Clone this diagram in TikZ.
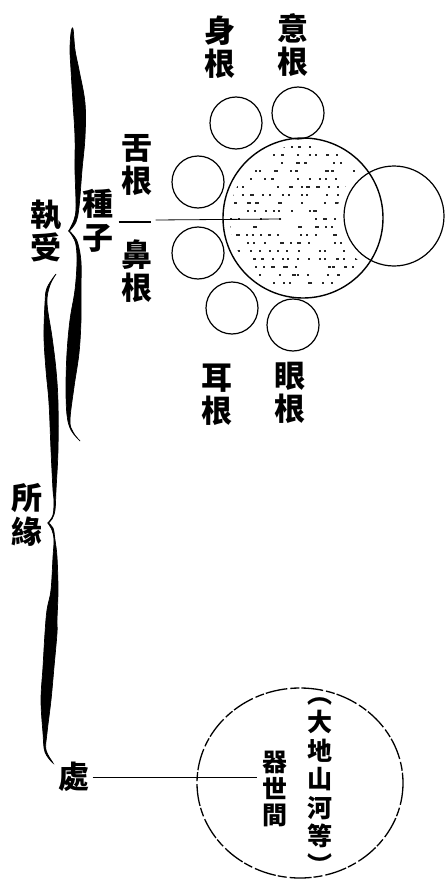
\documentclass[tikz,border=0pt]{standalone}
\usepackage{fontspec}
\newfontfamily\cjk{Noto Sans CJK TC}
\begin{document}
\begin{tikzpicture}[x=1pt,y=-1pt]
\tikzset{
  lbl/.style={font=\cjk\bfseries\fontsize{31}{33.5}\selectfont, align=center, inner sep=0pt},
  lblsm/.style={font=\cjk\bfseries\fontsize{25}{28.5}\selectfont, align=center, inner sep=0pt},
  organ/.style={draw, circle, line width=1.2pt, minimum size=52pt, inner sep=0pt},
  bracefill/.style={fill=black, draw=black, line width=0.7pt},
  leader/.style={line width=0.8pt},
}
\useasboundingbox (0,0) rectangle (444,888);

% stipple in the big circle
\begin{scope}
  \clip (303,218) circle[radius=73];
  \begin{scope}[even odd rule]
  \clip (200,100) rectangle (460,340) (394,216) circle[radius=57];
  \pgfmathsetseed{11}
  \foreach \yy in {146,154,...,294}{
    \foreach \xx in {226,235,...,380}{
      \pgfmathsetmacro{\rr}{rnd}
      \pgfmathsetmacro{\dx}{3.5*rand}
      \pgfmathsetmacro{\ww}{\rr<0.3 ? 0 : (\rr<0.75 ? 2 : 3.6)}
      \ifdim\ww pt>0pt \fill[black!85] (\xx+\dx,\yy) rectangle ++(\ww,2); \fi
    }
  }
  \end{scope}
\end{scope}

% big circle and its companion
\node[draw, circle, line width=1.4pt, minimum size=160pt, inner sep=0pt] (big) at (303,218) {};
\node[draw, circle, line width=1.2pt, minimum size=100pt, inner sep=0pt] (rc) at (394,216) {};

% six organ circles
\node[organ] (cyi) at (298,113) {};
\node[organ] (cshen) at (236,123) {};
\node[organ] (cshe) at (198,182) {};
\node[organ] (cbi) at (198,253) {};
\node[organ] (cer) at (232,308) {};
\node[organ] (cyan) at (293,325) {};

% labels
\node[lbl] (shen) at (220,47) {身\\根};
\node[lbl] (yi) at (293,45) {意\\根};
\node[lbl] (she) at (137,165) {舌\\根};
\node[lbl] (bi) at (137,271) {鼻\\根};
\node[lbl] (er) at (217,395) {耳\\根};
\node[lbl] (yan) at (290,393) {眼\\根};
\node[lbl] (zhongzi) at (98,221) {種\\子};
\node[lbl] (zhishou) at (46,231) {執\\受};
\node[lbl] (suoyuan) at (27,515) {所\\緣};
\node[lbl] (chu) at (74,777) {處};

% leader from seeds into the big circle
\coordinate (seedend) at (281,219);
\draw[line width=1.8pt] ([xshift=5pt,yshift=-1pt]zhongzi.east) -- ++(32,0);
\draw[leader] ([xshift=42pt,yshift=1pt]zhongzi.east) -- (seedend);

% world circle
\coordinate (world) at (300,783);
\coordinate (worldend) at (257,777);
\draw[line width=1.3pt, dash pattern=on 22pt off 3pt on 9pt off 2pt] (world) ellipse[x radius=103, y radius=95];
\node[lblsm] (dadi) at (320,786) {︵\\大\\地\\山\\河\\等\\︶};
\node[lblsm, font=\cjk\bfseries\fontsize{25}{26.5}\selectfont] (qishi) at (275,789) {器\\世\\間};
\draw[line width=1pt] ([xshift=3pt]chu.east) -- (worldend);

% brace 1 (執受)
\filldraw[bracefill] plot[smooth cycle, tension=0.6] coordinates {(73,29) (75,50) (79,70) (85,103) (85,137) (82,170) (79,207) (76,222) (69,231) (74,220) (76,207) (75,170) (75,137) (73,103) (71,70) (70,50) (71,33)};
\filldraw[bracefill] plot[smooth cycle, tension=0.6] coordinates {(69,231) (74,236) (78,244) (81,262) (81,290) (81,320) (79,353) (74,387) (70,420) (73,432) (80,441) (71,430) (67,415) (66,387) (67,353) (70,320) (75,290) (77,262) (76,245) (73,237)};

% brace 2 (所緣)
\filldraw[bracefill] plot[smooth cycle, tension=0.6] coordinates {(56,274) (50,285) (47,303) (52,337) (56,370) (58,403) (58,450) (56,490) (55,510) (52,519) (48,523) (53,515) (54,500) (53,490) (51,450) (49,403) (46,370) (44,337) (45,303) (47,288)};
\filldraw[bracefill] plot[smooth cycle, tension=0.6] coordinates {(48,523) (53,528) (55,540) (57,557) (58,590) (57,620) (57,633) (54,667) (51,700) (47,733) (46,750) (53,763) (45,752) (43,733) (41,700) (43,667) (45,633) (47,610) (51,590) (53,557) (54,540) (52,530)};
\end{tikzpicture}
\end{document}
